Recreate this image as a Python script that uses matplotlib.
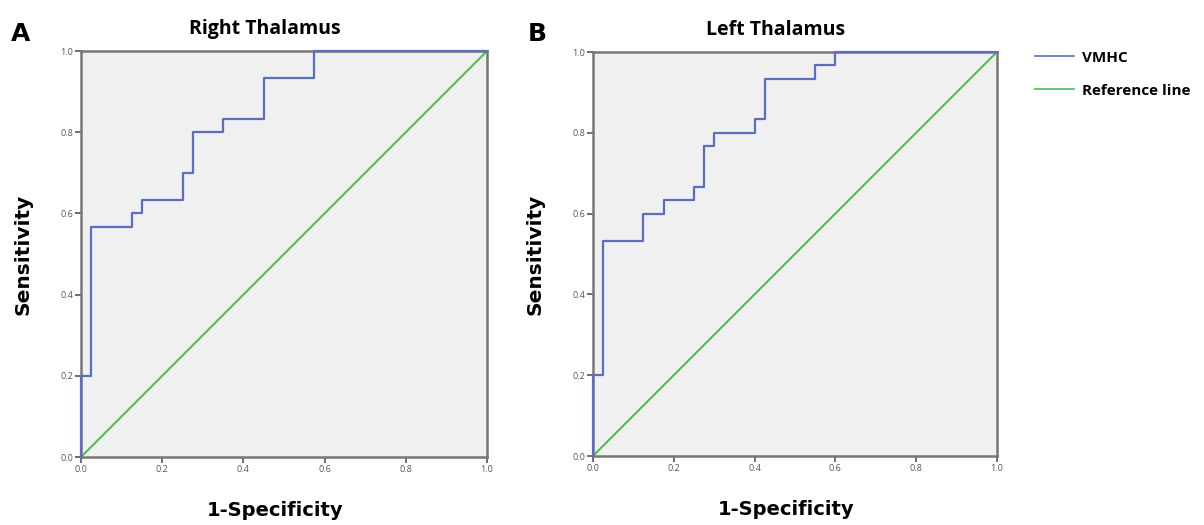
import matplotlib
matplotlib.use("Agg")
import matplotlib.pyplot as plt
from matplotlib.lines import Line2D

plt.rcParams['font.family'] = ['Open Sans', 'DejaVu Sans']

# ROC step points (1-specificity, sensitivity)
right_fpr  = [0.0, 0.0, 0.025, 0.025, 0.125, 0.125, 0.15, 0.15, 0.25, 0.25,
              0.275, 0.275, 0.35, 0.35, 0.45, 0.45, 0.575, 0.575, 1.0]
right_tpr  = [0.0, 0.2, 0.2, 0.567, 0.567, 0.6, 0.6, 0.633, 0.633, 0.7,
              0.7, 0.8, 0.8, 0.833, 0.833, 0.933, 0.933, 1.0, 1.0]

left_fpr = [0.0, 0.0, 0.025, 0.025, 0.125, 0.125, 0.175, 0.175, 0.25, 0.25,
            0.275, 0.275, 0.3, 0.3, 0.4, 0.4, 0.425, 0.425, 0.55, 0.55,
            0.6, 0.6, 1.0]
left_tpr = [0.0, 0.2, 0.2, 0.533, 0.533, 0.6, 0.6, 0.633, 0.633, 0.667,
            0.667, 0.767, 0.767, 0.8, 0.8, 0.833, 0.833, 0.933, 0.933, 0.967,
            0.967, 1.0, 1.0]

ref_line = [0.0, 1.0]
ticks = [0.0, 0.2, 0.4, 0.6, 0.8, 1.0]
tick_labels = ['0.0', '0.2', '0.4', '0.6', '0.8', '1.0']

blue = '#5b6fc0'
green = '#4cbf55'

fig = plt.figure(figsize=(12.04, 5.25), dpi=100)
axA = fig.add_axes([0.0673, 0.1295, 0.3372, 0.7733])
axB = fig.add_axes([0.4925, 0.1314, 0.3355, 0.7695])

panels = [(axA, right_fpr, right_tpr, 'Right Thalamus'),
          (axB, left_fpr, left_tpr, 'Left Thalamus')]

for ax, fpr, tpr, title in panels:
    ax.set_facecolor('#f0f0f0')
    ax.plot(ref_line, ref_line, color=green, lw=1.5)
    ax.plot(fpr, tpr, color=blue, lw=1.6, clip_on=False, zorder=5)
    ax.set_xlim(0, 1)
    ax.set_ylim(0, 1)
    ax.set_xticks(ticks)
    ax.set_yticks(ticks)
    ax.set_xticklabels(tick_labels)
    ax.set_yticklabels(tick_labels)
    ax.tick_params(direction='out', length=4, width=1.2, color='#555555',
                   labelsize=6.5, labelcolor='#555555', pad=1.5)
    for sp in ax.spines.values():
        sp.set_color('#777777')
        sp.set_linewidth(1.8)
    ax.set_title(title, fontsize=14, fontweight='bold', pad=12, x=0.453)
    ax.set_xlabel('1-Specificity', fontsize=14, fontweight='bold',
                  labelpad=20, family='DejaVu Sans', x=0.477)
    ax.set_ylabel('Sensitivity', fontsize=14.5, fontweight='bold',
                  labelpad=20, family='DejaVu Sans')

fig.text(0.009, 0.922, 'A', fontsize=18, fontweight='bold', family='DejaVu Sans')
fig.text(0.438, 0.922, 'B', fontsize=18, fontweight='bold', family='DejaVu Sans')

handles = [Line2D([0], [0], color=blue, lw=1.2),
           Line2D([0], [0], color=green, lw=1.2)]
fig.legend(handles, ['VMHC', 'Reference line'], loc='upper left',
           bbox_to_anchor=(0.848, 0.93), frameon=False,
           prop={'weight': 'bold', 'size': 11}, handlelength=2.6,
           handletextpad=0.5, labelspacing=1.25)

fig.savefig('out.png', dpi=100)
